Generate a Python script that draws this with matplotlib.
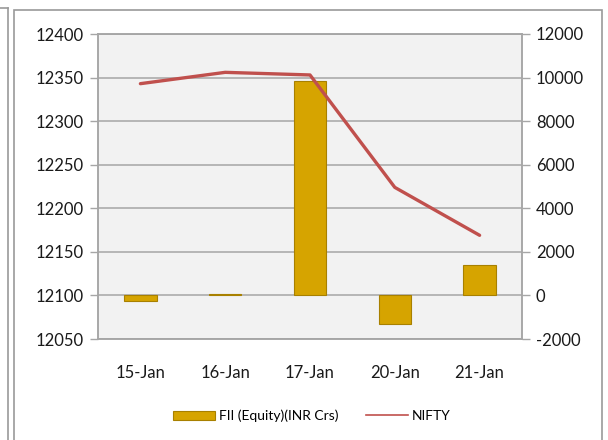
import matplotlib.pyplot as plt
from matplotlib.patches import Patch, Rectangle
from matplotlib.lines import Line2D

# FII flows vs NIFTY close
dates = ['15-Jan', '16-Jan', '17-Jan', '20-Jan', '21-Jan']
fii = [-240, 80, 9830, -1300, 1380]          # INR Crs, right axis
nifty = [12343, 12356, 12353, 12224, 12169]  # left axis

bar_col = '#d6a400'
line_col = '#c0504d'
grid_col = '#a6a6a6'

plt.rcParams['font.family'] = ['Lato', 'DejaVu Sans']
plt.rcParams['axes.unicode_minus'] = False

fig = plt.figure(figsize=(6.08, 4.40), dpi=100)
ax = fig.add_axes([98/608, 1 - 339/440, 424/608, 305/440])
ax2 = ax.twinx()

# draw order: bars/grid (ax2) under line (ax)
ax.set_zorder(ax2.get_zorder() + 1)
ax.patch.set_visible(False)
ax2.patch.set_visible(True)
ax2.patch.set_facecolor('#f2f2f2')

x = list(range(len(dates)))
ax2.bar(x, fii, width=0.38, color=bar_col, edgecolor='#a88000', linewidth=0.8)
ax2.set_ylim(-2000, 12000)
ax2.set_yticks(range(-2000, 12001, 2000))
ax2.set_axisbelow(True)
ax2.grid(axis='y', color=grid_col, linewidth=1.1)

ax.plot(x, nifty, color=line_col, linewidth=2.4, solid_capstyle='round')
ax.set_ylim(12050, 12400)
ax.set_yticks(range(12050, 12401, 50))
ax.set_xlim(-0.5, 4.5)
ax.set_xticks(x)
ax.set_xticklabels(dates)

for a in (ax, ax2):
    for s in a.spines.values():
        s.set_color(grid_col)
        s.set_linewidth(1.1)
    a.tick_params(axis='y', direction='out', length=6, width=1, color=grid_col,
                  labelsize=12, labelcolor='#1a1a1a', pad=4)
ax.tick_params(axis='x', length=0, labelsize=12, labelcolor='#1a1a1a', pad=19)

handles = [Patch(facecolor=bar_col, edgecolor='#a88000', linewidth=0.8),
           Line2D([], [], color=line_col, linewidth=1.2)]
fig.legend(handles, ['FII (Equity)(INR Crs)', 'NIFTY'], loc='center',
           bbox_to_anchor=(312/608, 1 - 416/440), ncol=2, frameon=False,
           fontsize=10, handlelength=3.0, handleheight=0.7, columnspacing=2.0,
           handletextpad=0.3)

# outer chart frame and neighbouring panel edge
fig.add_artist(Rectangle((14/608, -0.05), 588/608, 1.05 - 10/440,
                         transform=fig.transFigure, fill=False,
                         edgecolor='#9a9a9a', linewidth=1.2))
fig.add_artist(Line2D([8/608, 8/608], [0, 1 - 8/440], transform=fig.transFigure,
                      color='#9a9a9a', linewidth=1.2))
fig.add_artist(Line2D([0, 8/608], [1 - 8/440, 1 - 8/440], transform=fig.transFigure,
                      color='#9a9a9a', linewidth=1.2))

fig.savefig('out.png', dpi=100)
